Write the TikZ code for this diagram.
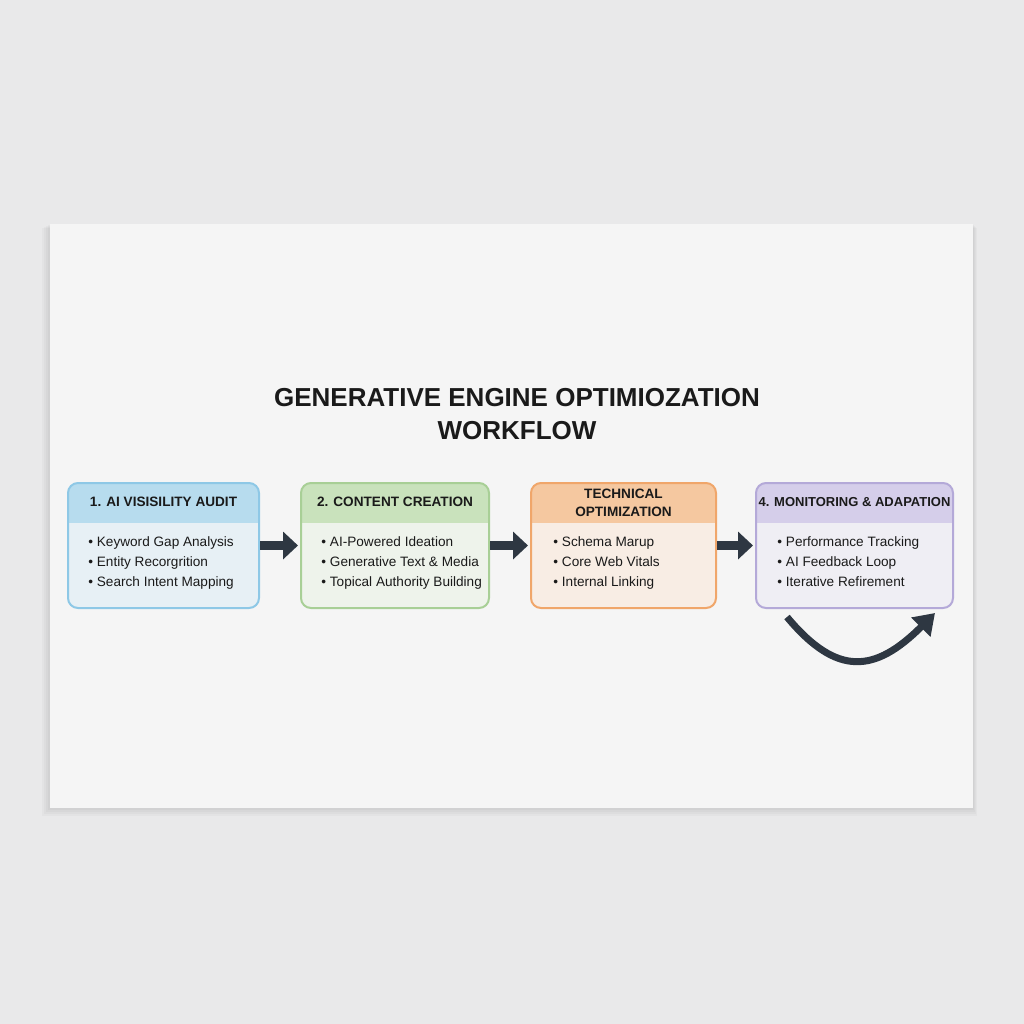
\documentclass[tikz,border=0pt]{standalone}
\usepackage{fontspec}
\setmainfont{Liberation Sans}
\usetikzlibrary{arrows.meta}

\definecolor{wallcol}{HTML}{E9E9EA}
\definecolor{panelcol}{HTML}{F5F5F5}
\definecolor{inkcol}{HTML}{1A1A1A}
\definecolor{arrowcol}{HTML}{2E3742}
\definecolor{auditedge}{HTML}{8EC8E6}
\definecolor{audithead}{HTML}{B7DCEE}
\definecolor{auditbody}{HTML}{E7F0F5}
\definecolor{contentedge}{HTML}{A8CF96}
\definecolor{contenthead}{HTML}{C9E2BC}
\definecolor{contentbody}{HTML}{EEF3EB}
\definecolor{techedge}{HTML}{F0A66A}
\definecolor{techhead}{HTML}{F5C8A0}
\definecolor{techbody}{HTML}{F8EDE4}
\definecolor{monedge}{HTML}{B4A9D8}
\definecolor{monhead}{HTML}{D5CEEA}
\definecolor{monbody}{HTML}{EFEEF4}

\tikzset{
  stepbox/.style n args={3}{draw=#1, fill=#3, line width=1pt, rounded corners=5pt,
    minimum height=62.5pt, inner sep=0pt,
    path picture={\fill[#2, sharp corners] (path picture bounding box.north west)
      rectangle ([yshift=-20pt]path picture bounding box.north east);}},
  steptitle/.style={font=\bfseries\fontsize{6.8}{9}\selectfont, align=center, text=inkcol},
  steplist/.style={font=\fontsize{6.8}{10}\selectfont, align=left, anchor=north west,
    inner sep=0pt, text=inkcol},
  flow/.style={line width=4.5pt, draw=arrowcol, shorten >=1pt,
    -{Triangle[width=13.5pt,length=7.5pt]}},
  loopback/.style={line width=3.5pt, draw=arrowcol, -{Triangle[width=13pt,length=10pt]}}
}

\begin{document}
\begin{tikzpicture}[x=0.5pt,y=-0.5pt]
	% Wall and panel
	\fill[wallcol] (0,0) rectangle (1024,1024);
	\useasboundingbox (0,0) rectangle (1024,1024);
	\foreach \d in {2,4,6,8}
		\fill[black, opacity=0.025] (50-\d,224+\d/2) rectangle (973+\d/2,808+\d);
	\fill[panelcol] (50,224) rectangle (973,808);

	% Title
	\node[font=\bfseries\fontsize{13}{16.5}\selectfont, align=center, text=inkcol] (title) at (517,414.5)
		{GENERATIVE ENGINE OPTIMIOZATION\\WORKFLOW};

	% Steps
	\node[stepbox={auditedge}{audithead}{auditbody}, minimum width=95.5pt] (s1) at (163.5,545.5) {};
	\node[stepbox={contentedge}{contenthead}{contentbody}, minimum width=94pt] (s2) at (395,545.5) {};
	\node[stepbox={techedge}{techhead}{techbody}, minimum width=92.5pt] (s3) at (623.5,545.5) {};
	\node[stepbox={monedge}{monhead}{monbody}, minimum width=98.5pt] (s4) at (854.5,545.5) {};

	% Step headers
	\node[steptitle] (t1) at ([yshift=-10pt]s1.north) {1. AI VISISILITY AUDIT};
	\node[steptitle] (t2) at ([yshift=-10pt]s2.north) {2. CONTENT CREATION};
	\node[steptitle] (t3) at ([yshift=-10.5pt]s3.north) {TECHNICAL\\OPTIMIZATION};
	\node[steptitle, font=\bfseries\fontsize{6.5}{9}\selectfont] (t4) at ([yshift=-10pt]s4.north)
		{4. MONITORING \& ADAPATION};

	% Step items
	\node[steplist] (l1) at ([xshift=10.5pt,yshift=-27pt]s1.north west)
		{• Keyword Gap Analysis\\• Entity Recorgrition\\• Search Intent Mapping};
	\node[steplist] (l2) at ([xshift=10.5pt,yshift=-27pt]s2.north west)
		{• AI-Powered Ideation\\• Generative Text \& Media\\• Topical Authority Building};
	\node[steplist] (l3) at ([xshift=11.5pt,yshift=-27pt]s3.north west)
		{• Schema Marup\\• Core Web Vitals\\• Internal Linking};
	\node[steplist] (l4) at ([xshift=11pt,yshift=-27pt]s4.north west)
		{• Performance Tracking\\• AI Feedback Loop\\• Iterative Refirement};

	% Arrows
	\draw[flow] (s1.east) -- (s2.west);
	\draw[flow] (s2.east) -- (s3.west);
	\draw[flow] (s3.east) -- (s4.west);

	% Loop back
	\coordinate (loopstart) at (787,617);
	\coordinate (loopend) at (935,613);
	\draw[loopback] (loopstart) .. controls (837,677) and (875,673) .. (loopend);
\end{tikzpicture}
\end{document}
